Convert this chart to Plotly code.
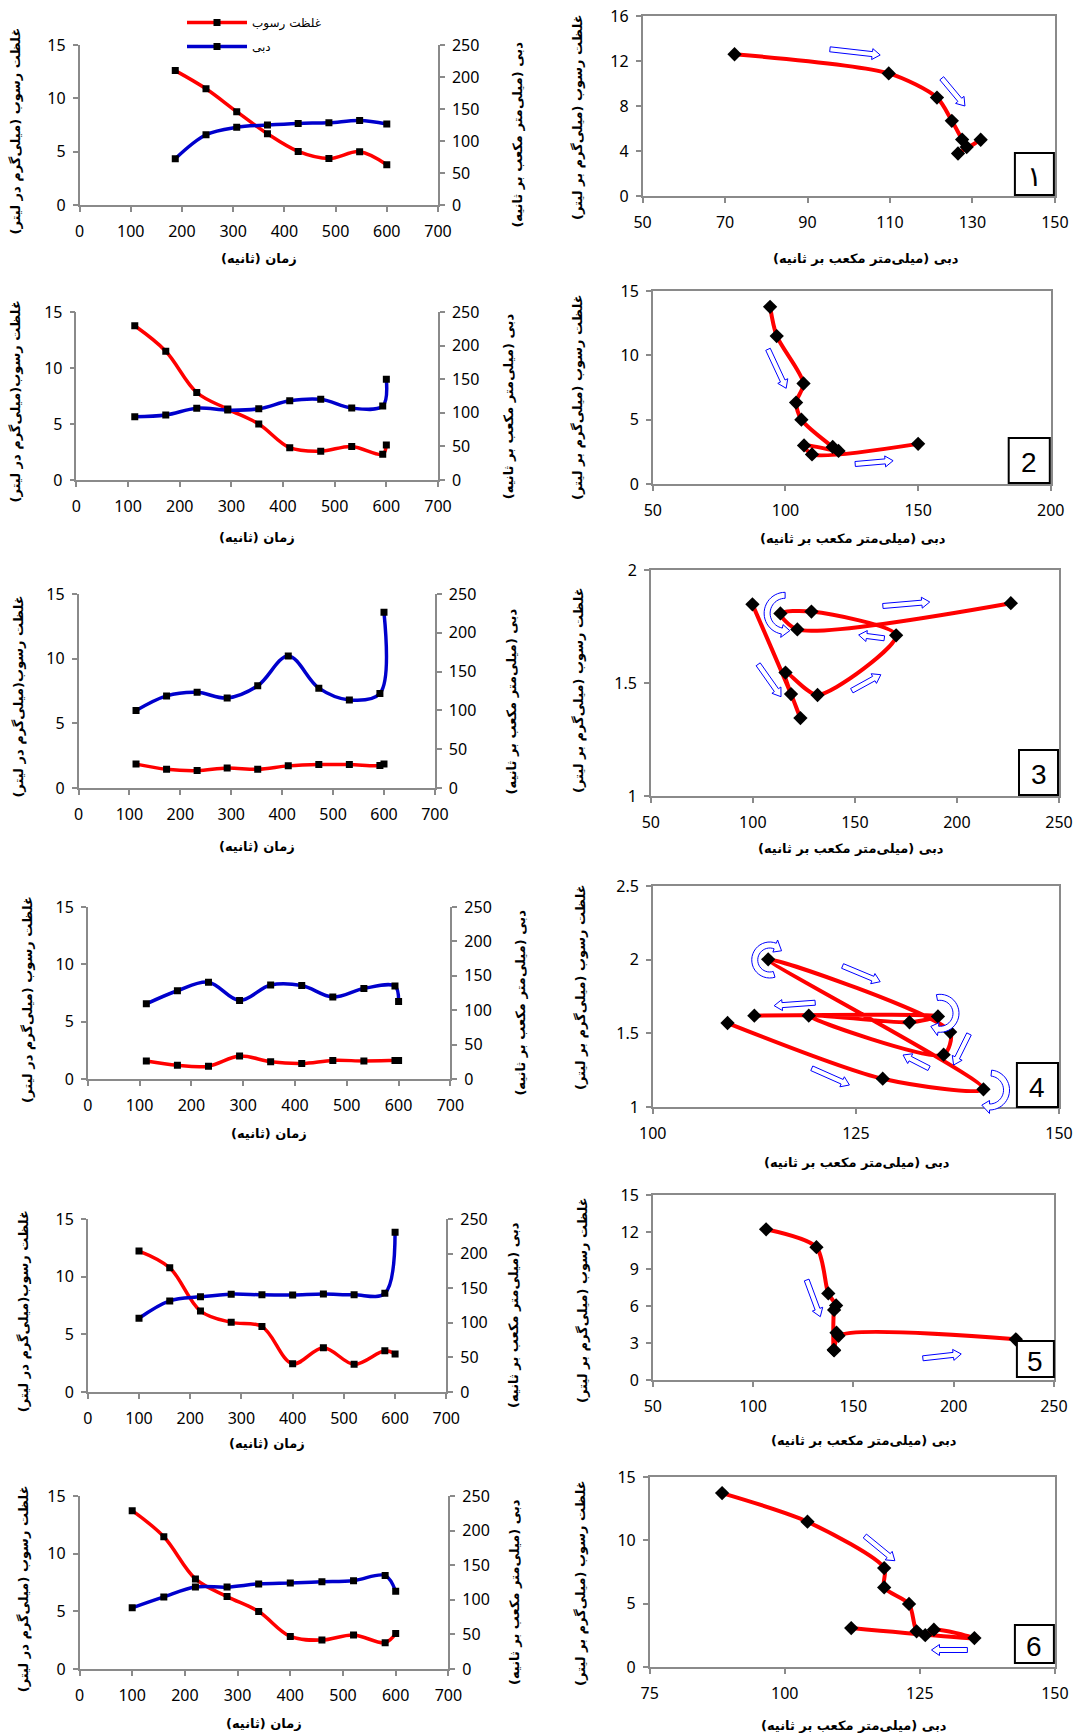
import math
import plotly.graph_objects as go

W, H = 1076, 1736

# ---------------- data ----------------
times1 = [187, 247, 307, 367, 427, 487, 547, 600]
sed1 = [12.6, 10.9, 8.75, 6.68, 5.02, 4.35, 5.0, 3.78]
flow1 = [72.3, 109.7, 121.4, 125.0, 127.5, 128.6, 132.0, 126.5]

times2 = [113, 173, 233, 293, 353, 413, 473, 533, 593, 600]
sed2 = [13.77, 11.5, 7.81, 6.33, 5.0, 2.88, 2.57, 3.0, 2.3, 3.12]
flow2 = [94.2, 96.7, 106.8, 104.0, 106.0, 117.8, 120.0, 107.0, 110.0, 150.0]

times3 = [113, 173, 233, 292, 352, 412, 472, 532, 592, 600]
sed3 = [1.848, 1.451, 1.345, 1.546, 1.447, 1.711, 1.816, 1.808, 1.737, 1.853]
flow3 = [99.8, 118.7, 123.3, 116.0, 131.7, 170.2, 128.7, 113.5, 121.8, 226.4]

times4 = [113, 173, 233, 293, 353, 413, 473, 533, 593, 600]
sed4 = [1.570, 1.192, 1.120, 2.002, 1.509, 1.355, 1.620, 1.575, 1.615, 1.620]
flow4 = [109.2, 128.3, 140.7, 114.2, 136.6, 135.8, 119.2, 131.6, 135.1, 112.5]

times5 = [100, 160, 220, 280, 340, 400, 460, 520, 580, 600]
sed5 = [12.22, 10.77, 7.02, 6.04, 5.68, 2.45, 3.84, 2.40, 3.58, 3.30]
flow5 = [106.5, 131.6, 137.5, 141.4, 140.4, 140.2, 141.6, 140.4, 142.6, 231.0]

times6 = [100, 160, 220, 280, 340, 400, 460, 520, 580, 600]
sed6 = [13.73, 11.47, 7.81, 6.28, 4.98, 2.82, 2.51, 2.95, 2.28, 3.07]
flow6 = [88.4, 104.2, 118.4, 118.4, 123.0, 124.4, 126.0, 127.6, 135.1, 112.3]

panel_labels = ["١", "2", "3", "4", "5", "6"]

left_x_ticks = [0, 100, 200, 300, 400, 500, 600, 700]
left_y_ticks = [0, 5, 10, 15]
left_y2_ticks = [0, 50, 100, 150, 200, 250]

T_SED = "غلظت رسوب"
T_FLOW = "دبی"
T_TIME = "زمان (ثانیه)"
T_LEFT_Y = ["غلظت رسوب (میلی‌گرم در لیتر)", "غلظت رسوب(میلی‌گرم در لیتر)",
            "غلظت رسوب(میلی‌گرم در لیتر)", "غلظت رسوب (میلی‌گرم در لیتر)",
            "غلظت رسوب(میلی‌گرم در لیتر)", "غلظت رسوب (میلی‌گرم در لیتر)"]
T_RIGHT_Y2 = "دبی (میلی‌متر مکعب بر ثانیه)"
T_Q = "دبی (میلی‌متر مکعب بر ثانیه)"
T_C = "غلظت رسوب (میلی‌گرم بر لیتر)"

series = [(times1, sed1, flow1), (times2, sed2, flow2), (times3, sed3, flow3),
          (times4, sed4, flow4), (times5, sed5, flow5), (times6, sed6, flow6)]

# ---------------- layout geometry (pixels) ----------------
left_dom = [(79.5, 438.0, 45, 205), (76.4, 438.0, 312, 480), (78.5, 434.9, 594, 788),
            (87.8, 450.4, 907, 1079), (87.8, 446.3, 1219, 1392), (79.5, 448.4, 1496, 1669)]
right_dom = [(642.6, 1054.9, 16, 196), (652.8, 1050.8, 291, 484), (650.8, 1059.0, 570, 796),
             (652.8, 1059.0, 886, 1107), (652.8, 1053.9, 1195, 1380), (649.7, 1054.9, 1477, 1667)]
right_xr = [(50, 150, 20), (50, 200, 50), (50, 250, 50), (100, 150, 25), (50, 250, 50), (75, 150, 25)]
right_yr = [(0, 16, 4), (0, 15, 5), (1, 2, 0.5), (1, 2.5, 0.5), (0, 15, 3), (0, 15, 5)]

left_ytitle_x = [15.5, 15.5, 18.6, 27.9, 23.8, 23.8]
right_ytitle_x = [516.6, 508.3, 511.4, 519.6, 513.5, 514.5]
left_xtitle_y = [258, 537, 846, 1133, 1443, 1723]
right_xtitle_y = [258, 538, 848, 1162, 1440, 1725]
right_xtitle_x = [866.2, 852.8, 850.8, 857.0, 864.2, 853.8]
rq_ytitle_x = [578, 578, 579, 581, 583, 581]
rq_ytitle_y = [117, 397, 690, 987, 1300, 1583]
boxes = [(1014.9, 153, 1053.9, 195), (1008.7, 438, 1049.8, 483), (1019.0, 750, 1058.0, 795),
         (1016.9, 1063, 1058.0, 1107), (1016.9, 1341, 1053.9, 1377), (1014.9, 1625, 1053.9, 1663)]

RED = "#FF0000"
BLUE = "#0000CC"
GREY = "#8A8A8A"
AR_FONT = "DejaVu Sans"
NUM_FONT = "Noto Sans"


def fx(x):
    return x / W


def fy(y):
    return 1 - y / H


def akey(name):
    letter, n = name[0], int(name[1:])
    return f"{letter}axis" if n == 1 else f"{letter}axis{n}"


def label(text, x, y, angle=0, size=13, family=AR_FONT):
    return dict(text=text, x=fx(x), y=fy(y), xref="paper", yref="paper", textangle=angle,
                showarrow=False, xanchor="center", yanchor="middle",
                font=dict(family=family, size=size, color="black"))


fig = go.Figure()
layout = dict(width=W, height=H, margin=dict(l=0, r=0, t=0, b=0, pad=0, autoexpand=False),
              paper_bgcolor="white", plot_bgcolor="white", hovermode=False,
              font=dict(family=NUM_FONT, size=15, color="black"))
annotations = []
shapes = []

axis_common = dict(showgrid=False, zeroline=False, showline=True, linecolor=GREY, linewidth=1.5,
                   ticks="outside", ticklen=5, tickcolor=GREY, tickwidth=1.5, automargin=False,
                   tickfont=dict(family=NUM_FONT, size=16, color="black"))

for i in range(6):
    t, s, q = series[i]
    xl, yl, yl2 = f"x{2*i+1}", f"y{3*i+1}", f"y{3*i+2}"
    xr, yr = f"x{2*i+2}", f"y{3*i+3}"
    x0, x1, y0, y1 = left_dom[i]
    layout[akey(xl)] = dict(axis_common, domain=[fx(x0), fx(x1)], range=[0, 700],
                            tickvals=left_x_ticks, anchor=yl, ticklabelstandoff=6)
    layout[akey(yl)] = dict(axis_common, domain=[fy(y1), fy(y0)], range=[0, 15],
                            tickvals=left_y_ticks, anchor=xl, ticklabelstandoff=4)
    layout[akey(yl2)] = dict(axis_common, range=[0, 250], tickvals=left_y2_ticks,
                             anchor=xl, overlaying=yl, side="right", ticklabelstandoff=4)
    fig.add_trace(go.Scatter(x=t, y=s, xaxis=xl, yaxis=yl, mode="lines+markers",
                             line=dict(color=RED, width=3.5, shape="spline", smoothing=1.0),
                             marker=dict(symbol="square", size=7, color="black"),
                             name=T_SED, legendgroup="a", showlegend=(i == 0)))
    fig.add_trace(go.Scatter(x=t, y=q, xaxis=xl, yaxis=yl2, mode="lines+markers",
                             line=dict(color=BLUE, width=3.5, shape="spline", smoothing=1.0),
                             marker=dict(symbol="square", size=7, color="black"),
                             name=T_FLOW, legendgroup="b", showlegend=(i == 0)))

    rx0, rx1, ry0, ry1 = right_dom[i]
    a, b, d = right_xr[i]
    c, e, g = right_yr[i]
    layout[akey(xr)] = dict(axis_common, domain=[fx(rx0), fx(rx1)], range=[a, b], dtick=d, tick0=a,
                            anchor=yr, mirror=True, ticklabelstandoff=6)
    layout[akey(yr)] = dict(axis_common, domain=[fy(ry1), fy(ry0)], range=[c, e], dtick=g, tick0=c,
                            anchor=xr, mirror=True, ticklabelstandoff=4)
    fig.add_trace(go.Scatter(x=q, y=s, xaxis=xr, yaxis=yr, mode="lines+markers",
                             line=dict(color=RED, width=4, shape="spline", smoothing=0.75),
                             marker=dict(symbol="diamond", size=11, color="black"),
                             showlegend=False))

    # titles
    annotations.append(label(f"<b>{T_LEFT_Y[i]}</b>", left_ytitle_x[i], (y0 + y1) / 2 + 6, -90))
    annotations.append(label(f"<b>{T_RIGHT_Y2}</b>", right_ytitle_x[i], (y0 + y1) / 2 + 10, -90))
    annotations.append(label(f"<b>{T_TIME}</b>", (x0 + x1) / 2, left_xtitle_y[i]))
    annotations.append(label(f"<b>{T_Q}</b>", right_xtitle_x[i], right_xtitle_y[i]))
    annotations.append(label(f"<b>{T_C}</b>", rq_ytitle_x[i], rq_ytitle_y[i], -90))
    # numbered box
    bx0, by0, bx1, by1 = boxes[i]
    shapes.append(dict(type="rect", xref="paper", yref="paper", x0=fx(bx0), x1=fx(bx1),
                       y0=fy(by1), y1=fy(by0), line=dict(color="black", width=2),
                       fillcolor="white", layer="above"))
    annotations.append(label(panel_labels[i], (bx0 + bx1) / 2, (by0 + by1) / 2 + 2,
                             size=28, family="Liberation Sans"))


# ---------------- hollow direction arrows (decoration) ----------------
def sx(x):
    # horizontal correction of positions measured on the right-column crops
    return 540 + (x - 540) * 1.02564


def to_path(pts):
    return "M " + " L ".join(f"{fx(a):.5f},{fy(b):.5f}" for a, b in pts) + " Z"


def block_arrow(p0, p1, w=5, hw=11, hl=8):
    x0, y0 = sx(p0[0]), p0[1]
    x1, y1 = sx(p1[0]), p1[1]
    L = math.hypot(x1 - x0, y1 - y0)
    ux, uy = (x1 - x0) / L, (y1 - y0) / L
    nx, ny = -uy, ux
    nb = L - hl
    bx, by = x0 + ux * nb, y0 + uy * nb
    pts = [(x0 + nx * w / 2, y0 + ny * w / 2), (bx + nx * w / 2, by + ny * w / 2),
           (bx + nx * hw / 2, by + ny * hw / 2), (x1, y1),
           (bx - nx * hw / 2, by - ny * hw / 2), (bx - nx * w / 2, by - ny * w / 2),
           (x0 - nx * w / 2, y0 - ny * w / 2)]
    return to_path(pts)


def curved_arrow(c, r, a0, a1, w=6, hw=13, hl=8, n=24):
    cx, cy = sx(c[0]), c[1]
    sgn = 1 if a1 > a0 else -1
    ab = a1 - sgn * math.degrees(hl / r)

    def P(a, rr):
        return (cx + rr * math.cos(math.radians(a)), cy - rr * math.sin(math.radians(a)))

    outer = [P(a0 + (ab - a0) * k / n, r + w / 2) for k in range(n + 1)]
    inner = [P(ab + (a0 - ab) * k / n, r - w / 2) for k in range(n + 1)]
    pts = outer + [P(ab, r + hw / 2), P(a1, r), P(ab, r - hw / 2)] + inner
    return to_path(pts)


straight_arrows = [
    ((822.7, 49.3), (871.7, 55.0)), ((931.7, 78.3), (954.3, 106.0)),
    ((762.3, 349.3), (780.0, 388.3)), ((847.3, 464.0), (884.3, 460.7)),
    ((874.3, 606.0), (920.0, 602.0)), ((875.7, 638.3), (850.7, 635.0)),
    ((844.0, 690.7), (872.3, 674.7)), ((752.7, 664.3), (775.0, 696.7)),
    ((835.0, 966.0), (871.7, 981.7)), ((808.3, 1002.7), (768.3, 1005.7)),
    ((958.3, 1034.0), (943.3, 1065.0)), ((919.3, 1068.3), (894.0, 1055.0)),
    ((805.0, 1068.3), (841.7, 1085.0)),
    ((800.0, 1280.0), (813.3, 1316.7)), ((913.3, 1358.3), (950.7, 1354.0)),
    ((856.7, 1536.0), (886.0, 1560.7)), ((956.7, 1650.0), (921.7, 1650.0)),
]
curved_arrows = [
    ((779.0, 613.3), 18, 90, 285),
    ((764.0, 960.0), 15, 287, 38),
    ((930.0, 1013.3), 16, 101, -125),
    ((978.3, 1090.0), 17, 84, -117),
]
for p0, p1 in straight_arrows:
    shapes.append(dict(type="path", path=block_arrow(p0, p1), xref="paper", yref="paper",
                       line=dict(color="#0000FF", width=1), fillcolor="white", layer="above"))
for c, r, a0, a1 in curved_arrows:
    shapes.append(dict(type="path", path=curved_arrow(c, r, a0, a1), xref="paper", yref="paper",
                       line=dict(color="#0000FF", width=1), fillcolor="white", layer="above"))

layout["annotations"] = annotations
layout["shapes"] = shapes
layout["showlegend"] = True
layout["legend"] = dict(x=fx(182), y=fy(8), xanchor="left", yanchor="top",
                        bgcolor="rgba(0,0,0,0)", tracegroupgap=5, itemwidth=60,
                        font=dict(family=AR_FONT, size=12, color="black"))
fig.update_layout(**layout)
fig.write_html("out.html", config={"displayModeBar": False},
               post_script="document.body.style.margin='0';document.body.style.padding='0';"
                           "document.body.style.overflow='hidden';")
